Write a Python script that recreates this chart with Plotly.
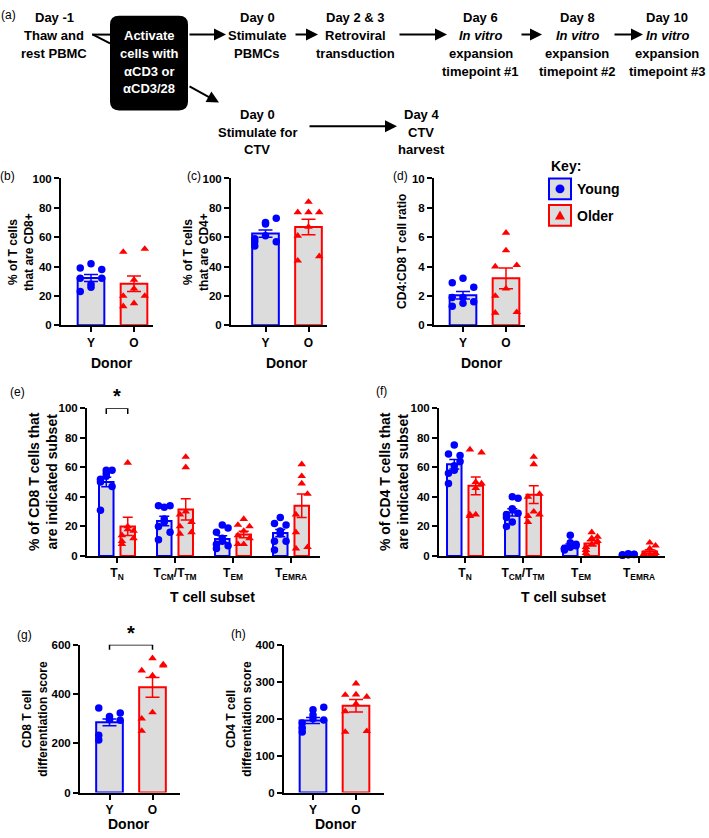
import plotly.graph_objects as go

W, H = 709, 838
BLUE, RED, GREY = '#0000ff', '#ff0000', '#dcdcdc'
SANS = 'Liberation Sans, Arial, sans-serif'

donor = ['Y', 'O']
subset = ['T<sub>N</sub>', 'T<sub>CM</sub>/T<sub>TM</sub>', 'T<sub>EM</sub>', 'T<sub>EMRA</sub>']

# (b) % of T cells that are CD8+
cd8_young = [39, 42, 38, 32, 28, 32, 23, 26]
cd8_old = [50, 31, 52, 20, 25, 20, 13, 15]
cd8_mean = [32.3, 28.3]
cd8_sem = [2.4, 5.3]

# (c) % of T cells that are CD4+
cd4_young = [59, 70, 57, 54, 61, 73, 57, 69]
cd4_old = [77, 84, 77, 44, 67, 47, 61, 77]
cd4_mean = [62.5, 67.0]
cd4_sem = [2.5, 5.3]

# (d) CD4:CD8 ratio
ratio_young = [2.9, 3.2, 2.6, 1.9, 1.9, 1.6, 1.3, 1.5]
ratio_old = [4.0, 6.3, 4.1, 0.85, 5.1, 0.9, 2.0, 2.5]
ratio_mean = [2.05, 3.2]
ratio_sem = [0.25, 0.7]

# (e) CD8 subsets, one list per subset
cd8_sub_young = [[52, 58, 58, 50, 56, 47, 31, 54],
                 [34, 33, 34, 20, 25, 16, 11, 23],
                 [16, 21, 19, 8, 12, 7, 5, 10],
                 [22, 26, 21, 10, 17, 10, 4, 15]]
cd8_sub_old = [[14, 63, 17, 10, 20, 12, 8, 18],
               [20, 67, 23, 15, 60, 16, 28, 30],
               [21, 25, 20, 8, 17, 12, 14, 8],
               [5, 62, 6, 16, 54, 42, 28, 49]]
cd8_sub_mean_y = [50, 23.7, 11.5, 15.5]
cd8_sub_sem_y = [3.2, 3.2, 2.2, 2.4]
cd8_sub_mean_o = [20, 31.5, 14.5, 34]
cd8_sub_sem_o = [6.2, 7.2, 2.2, 8.0]

# (f) CD4 subsets
cd4_sub_young = [[69, 75, 68, 56, 61, 64, 49, 58],
                 [28, 40, 39, 20, 32, 29, 26, 23],
                 [5, 14, 8, 4, 9, 7, 5, 6],
                 [0.5, 1.5, 1.2, 0.6, 1.0, 1.0, 0.7, 0.8]]
cd4_sub_old = [[72, 50, 70, 28, 46, 49, 27, 28],
               [23, 67, 28, 27, 62, 42, 40, 30],
               [2, 16, 13, 4, 12, 10, 6, 8],
               [0.5, 9, 7, 1, 5, 2, 1.5, 0.5]]
cd4_sub_mean_y = [62, 29.5, 7, 1]
cd4_sub_sem_y = [3.2, 2.5, 1.2, 0.15]
cd4_sub_mean_o = [47.5, 41.5, 8.5, 3]
cd4_sub_sem_o = [6.0, 6.0, 1.8, 1.2]

# (g) CD8 differentiation score
cd8_score_young = [343, 297, 323, 213, 309, 293, 233, 297]
cd8_score_old = [495, 545, 520, 250, 475, 515, 300, 325]
cd8_score_mean = [285, 427]
cd8_score_sem = [14, 40]

# (h) CD4 differentiation score
cd4_score_young = [188, 224, 231, 164, 200, 196, 175, 210]
cd4_score_old = [264, 295, 259, 164, 240, 166, 220, 265]
cd4_score_mean = [195, 235]
cd4_score_sem = [8, 17]


def px(x): return x / W
def py(y): return 1 - y / H


fig = go.Figure()
lay = {}
shapes, annos = [], []

AX = dict(showline=True, linecolor='black', linewidth=2, ticks='outside', tickcolor='black',
          tickwidth=2, ticklen=5, showgrid=False, zeroline=False, fixedrange=True,
          tickfont=dict(family=SANS, size=12, color='black', weight='bold'))


def ids(n):
    s = '' if n == 1 else str(n)
    return 'x' + s, 'y' + s, 'xaxis' + s, 'yaxis' + s


def add_axes(n, box, c0, step, ymax, dtick, ticktext):
    x0, x1, ytop, ybot = box
    xi, yi, xa, ya = ids(n)
    lay[xa] = dict(domain=[px(x0), px(x1)], range=[(x0 - c0) / step, (x1 - c0) / step], anchor=yi,
                   tickvals=list(range(len(ticktext))), ticktext=ticktext, **AX)
    lay[ya] = dict(domain=[py(ybot), py(ytop)], range=[0, ymax], dtick=dtick, anchor=xi,
                   **{**AX, 'tickfont': dict(family=SANS, size=11.5, color='black', weight='bold')})


def spread(vals, centre, w):
    return [centre + w * (-1, 0, 1)[i % 3] for i in range(len(vals))]


def bars(n, xs, means, sems, col, width, cap):
    xi, yi, _, _ = ids(n)
    fig.add_trace(go.Bar(x=xs, y=means, width=width, xaxis=xi, yaxis=yi,
                         marker=dict(color=GREY, line=dict(color=col, width=2)),
                         error_y=dict(type='data', array=sems, color=col, thickness=1.5, width=cap)))


def dots(n, xs, ys, col, sym):
    xi, yi, _, _ = ids(n)
    fig.add_trace(go.Scatter(x=xs, y=ys, mode='markers', xaxis=xi, yaxis=yi, cliponaxis=False,
                             marker=dict(color=col, symbol=sym, size=7.5, line=dict(width=0))))


def donor_panel(n, box, c0, ymax, dtick, young, old, means, sems):
    add_axes(n, box, c0, 43, ymax, dtick, donor)
    for k, (pts, col, sym) in enumerate([(young, BLUE, 'circle'), (old, RED, 'triangle-up')]):
        bars(n, [k], [means[k]], [sems[k]], col, 0.62, 7)
        dots(n, spread(pts, k, 0.25), pts, col, sym)


def subset_panel(n, box, c0, young, old, my, sy, mo, so):
    add_axes(n, box, c0, 58, 100, 20, subset)
    d = 0.185
    bars(n, [i - d for i in range(4)], my, sy, BLUE, 0.25, 5)
    bars(n, [i + d for i in range(4)], mo, so, RED, 0.25, 5)
    for i in range(4):
        dots(n, spread(young[i], i - d, 0.1), young[i], BLUE, 'circle')
        dots(n, spread(old[i], i + d, 0.1), old[i], RED, 'triangle-up')


donor_panel(1, (61, 153, 175, 324), 91, 100, 20, cd8_young, cd8_old, cd8_mean, cd8_sem)
donor_panel(2, (231, 327, 175, 324), 265.5, 100, 20, cd4_young, cd4_old, cd4_mean, cd4_sem)
donor_panel(3, (434, 525, 175, 324), 463, 10, 2, ratio_young, ratio_old, ratio_mean, ratio_sem)
subset_panel(4, (87, 320, 408, 558), 117, cd8_sub_young, cd8_sub_old,
             cd8_sub_mean_y, cd8_sub_sem_y, cd8_sub_mean_o, cd8_sub_sem_o)
subset_panel(5, (439, 665, 408, 558), 465, cd4_sub_young, cd4_sub_old,
             cd4_sub_mean_y, cd4_sub_sem_y, cd4_sub_mean_o, cd4_sub_sem_o)
donor_panel(6, (80, 180, 648, 798), 109.5, 600, 200, cd8_score_young, cd8_score_old,
            cd8_score_mean, cd8_score_sem)
donor_panel(7, (284, 384, 648, 798), 313, 400, 100, cd4_score_young, cd4_score_old,
            cd4_score_mean, cd4_score_sem)

# significance brackets
shapes.append(dict(type='path', xref='x4', yref='y4', path='M -0.185,96 L -0.185,100 L 0.185,100 L 0.185,96',
                   line=dict(color='black', width=1.5)))
shapes.append(dict(type='path', xref='x6', yref='y6', path='M 0,580 L 0,600 L 1,600 L 1,580',
                   line=dict(color='black', width=1.5)))
annos.append(dict(x=0, y=100, xref='x4', yref='y4', text='*', showarrow=False, yshift=12,
                  font=dict(family=SANS, size=20, weight='bold', color='black')))
annos.append(dict(x=0.5, y=600, xref='x6', yref='y6', text='*', showarrow=False, yshift=12,
                  font=dict(family=SANS, size=20, weight='bold', color='black')))


def text(x, y, s, size=12, bold=True, color='black', angle=0, xanchor='center'):
    annos.append(dict(x=px(x), y=py(y), xref='paper', yref='paper', text=s, showarrow=False,
                      textangle=angle, xanchor=xanchor, yanchor='middle',
                      font=dict(family=SANS, size=size, color=color, weight='bold' if bold else 'normal')))


# panel letters
for lab, x, y in [('(a)', 8, 9), ('(b)', 7, 172), ('(c)', 194, 172), ('(d)', 400, 172),
                  ('(e)', 17, 392), ('(f)', 381, 391), ('(g)', 24, 638), ('(h)', 239, 637)]:
    text(x, y, lab, 12, bold=False)

# axis titles
text(21, 249.5, '% of T cells<br>that are CD8+', 12, angle=-90)
text(196, 249.5, '% of T cells<br>that are CD4+', 12, angle=-90)
text(402, 249.5, 'CD4:CD8 T cell ratio', 12, angle=-90)
text(43, 483, '% of CD8 T cells that<br>are indicated subset', 14, angle=-90)
text(394, 483, '% of CD4 T cells that<br>are indicated subset', 14, angle=-90)
text(35, 723, 'CD8 T cell<br>differentiation score', 12, angle=-90)
text(239, 723, 'CD4 T cell<br>differentiation score', 12, angle=-90)
for x, y in [(112, 362), (287, 362), (482, 362), (129, 830), (336, 830)]:
    text(x, y, 'Donor', 14)
text(213, 600, 'T cell subset', 14)
text(563, 600, 'T cell subset', 14)

# key
text(549, 162, 'Key:', 14, xanchor='left')
text(575, 186, 'Young', 14, xanchor='left')
text(575, 213, 'Older', 14, xanchor='left')
for (y0, y1), col in [((175, 196), BLUE), ((202, 223), RED)]:
    shapes.append(dict(type='rect', xref='paper', yref='paper', x0=px(549), x1=px(571), y0=py(y1), y1=py(y0),
                       fillcolor=GREY, line=dict(color=col, width=2)))
shapes.append(dict(type='circle', xref='paper', yref='paper', x0=px(555.5), x1=px(564.5), y0=py(190),
                   y1=py(181), fillcolor=BLUE, line=dict(width=0)))
shapes.append(dict(type='path', xref='paper', yref='paper', fillcolor=RED, line=dict(width=0),
                   path=f'M {px(560)},{py(207.5)} L {px(565)},{py(216.5)} L {px(555)},{py(216.5)} Z'))

# (a) workflow diagram
ROW = [12 + 18 * i for i in range(5)]
ROW2 = [110, 128, 146]


def block(x, lines, rows, color='black'):
    for s, y in zip(lines, rows):
        text(x, y, s, 13, color=color)


r, bx0, bx1, by0, by1 = 9, 110, 188, 10, 106
shapes.append(dict(type='path', xref='paper', yref='paper', fillcolor='black', line=dict(width=0),
                   path=(f'M {px(bx0 + r)},{py(by0)} L {px(bx1 - r)},{py(by0)} Q {px(bx1)},{py(by0)} {px(bx1)},{py(by0 + r)} '
                         f'L {px(bx1)},{py(by1 - r)} Q {px(bx1)},{py(by1)} {px(bx1 - r)},{py(by1)} '
                         f'L {px(bx0 + r)},{py(by1)} Q {px(bx0)},{py(by1)} {px(bx0)},{py(by1 - r)} '
                         f'L {px(bx0)},{py(by0 + r)} Q {px(bx0)},{py(by0)} {px(bx0 + r)},{py(by0)} Z')))
for x0, y0, x1, y1 in [(92, 29, 110, 29), (93, 29, 110, 38)]:
    shapes.append(dict(type='line', xref='paper', yref='paper', x0=px(x0), y0=py(y0), x1=px(x1), y1=py(y1),
                       line=dict(color='black', width=2)))

block(54, ['Day -1', 'Thaw and', 'rest PBMC'], ROW)
block(149, ['Activate', 'cells with', 'αCD3 or', 'αCD3/28'], ROW[1:], 'white')
block(257, ['Day 0', 'Stimulate', 'PBMCs'], ROW)
block(355, ['Day 2 & 3', 'Retroviral', 'transduction'], ROW)
for x, d, k in [(481, 'Day 6', 1), (577, 'Day 8', 2), (667, 'Day 10', 3)]:
    block(x, [d, '<i>In vitro</i>', 'expansion', f'timepoint #{k}'], ROW)
block(257, ['Day 0', 'Stimulate for', 'CTV'], ROW2)
block(421, ['Day 4', 'CTV', 'harvest'], ROW2)

for (tx, ty), (hx, hy) in [((188, 29), (226, 29)), ((294, 29), (318, 29)), ((398, 29), (447, 29)),
                           ((520, 29), (542, 29)), ((613, 29), (643, 29)), ((188, 81), (219, 98)),
                           ((308, 122), (397, 122))]:
    annos.append(dict(x=px(hx), y=py(hy), xref='paper', yref='paper', ax=tx - hx, ay=ty - hy,
                      text='', showarrow=True, arrowhead=2, arrowsize=1.2, arrowwidth=2,
                      arrowcolor='black', standoff=0))

fig.update_layout(width=W, height=H, margin=dict(l=0, r=0, t=0, b=0), showlegend=False,
                  paper_bgcolor='white', plot_bgcolor='white', barmode='overlay', hovermode=False,
                  shapes=shapes, annotations=annos, font=dict(family=SANS, color='black'), **lay)
# the page's default 8px body margin would push the figure off the window
fig.write_html('out.html', config={'displayModeBar': False},
               post_script="document.body.style.margin='0';")
